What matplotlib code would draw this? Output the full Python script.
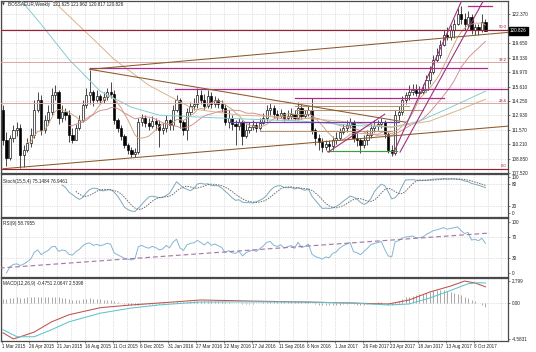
import numpy as np
import pandas as pd
import matplotlib
matplotlib.use("Agg")
import matplotlib.pyplot as plt
import matplotlib.transforms as mtransforms

plt.rcParams['font.family'] = ['Liberation Sans', 'DejaVu Sans']

# ---------------- data ----------------
title_text = "BOSSAEUR,Weekly  121.625 121.962 120.817 120.826"
stoch_label = "Stoch(15,5,4) 75.1484 76.9461"
rsi_label = "RSI(9) 58.7955"
macd_label = "MACD(12,26,9) -0.4751 2.0647 2.5398"

date_labels = ["1 Mar 2015", "26 Apr 2015", "21 Jun 2015", "16 Aug 2015", "11 Oct 2015",
               "6 Dec 2015", "31 Jan 2016", "27 Mar 2016", "22 May 2016", "17 Jul 2016",
               "11 Sep 2016", "6 Nov 2016", "1 Jan 2017", "26 Feb 2017", "23 Apr 2017",
               "18 Jun 2017", "13 Aug 2017", "8 Oct 2017"]

price_ticks = [122.370, 121.010, 119.650, 118.330, 116.970, 115.610, 114.250,
               112.930, 111.570, 110.210, 108.850, 107.520]
last_price = 120.826

first_open = 113.44
close = [
    110.62, 108.93, 110.81, 111.56, 111.75, 109.21, 109.68, 110.34, 111.09, 113.44,
    114.38, 111.56, 112.50, 113.25, 114.85, 115.13, 112.69, 113.25, 112.97, 111.09,
    110.62, 111.75, 112.50, 113.91, 114.85, 115.13, 114.38, 114.76, 114.38, 114.66,
    115.13, 114.94, 112.50, 111.75, 111.00, 110.15, 109.68, 109.30, 109.49, 112.31,
    112.69, 112.22, 111.94, 112.41, 112.12, 111.56, 111.75, 112.50, 112.03, 113.44,
    114.38, 112.31, 111.56, 113.25, 113.82, 114.00, 114.85, 114.38, 113.82, 114.76,
    114.00, 114.38, 114.00, 113.63, 112.31, 112.69, 112.12, 111.94, 112.31, 111.00,
    111.56, 111.84, 112.03, 111.75, 112.22, 112.69, 113.44, 113.63, 113.06, 112.88,
    113.16, 112.69, 112.88, 113.06, 112.69, 113.63, 112.88, 113.06, 113.44, 111.56,
    110.81, 110.43, 109.96, 110.24, 110.06, 110.62, 110.81, 111.37, 111.75, 112.03,
    112.31, 110.81, 110.62, 110.15, 110.62, 111.09, 111.75, 111.94, 112.12, 112.31,
    111.18, 109.68, 109.40, 112.97, 113.25, 114.38, 114.85, 115.13, 115.32, 115.04,
    115.13, 115.32, 116.26, 117.01, 118.14, 118.61, 119.55, 120.49, 120.30, 120.96,
    121.52, 122.37, 121.90, 121.52, 122.09, 120.96, 121.15, 120.96, 121.625, 120.826]
high = [
    113.91, 111.37, 111.09, 112.03, 112.31, 112.12, 110.15, 110.81, 111.75, 114.38,
    115.13, 114.85, 112.97, 113.91, 115.51, 115.79, 115.32, 113.91, 113.63, 113.44,
    111.75, 112.12, 112.97, 114.38, 115.51, 117.20, 115.32, 115.32, 114.94, 115.13,
    115.51, 116.07, 115.32, 112.69, 112.03, 111.18, 110.34, 109.96, 109.87, 112.69,
    113.06, 112.97, 112.69, 112.88, 112.69, 112.50, 112.22, 112.97, 112.59, 113.91,
    114.85, 114.57, 112.50, 113.63, 114.19, 114.57, 115.51, 115.32, 114.94, 115.32,
    115.13, 114.76, 114.57, 114.38, 114.00, 113.44, 112.97, 112.50, 112.69, 112.50,
    112.12, 112.31, 112.50, 112.31, 112.69, 113.16, 113.91, 114.10, 113.91, 113.44,
    113.53, 113.25, 113.44, 113.63, 113.44, 114.19, 114.00, 113.44, 113.82, 114.57,
    111.75, 111.18, 110.81, 110.62, 110.62, 111.00, 111.37, 111.75, 112.12, 112.50,
    112.69, 112.50, 111.28, 110.81, 111.09, 111.56, 112.12, 112.50, 112.50, 112.69,
    112.50, 111.37, 110.15, 113.44, 113.82, 114.76, 115.13, 115.79, 115.88, 115.88,
    115.70, 115.88, 116.73, 117.58, 118.61, 119.27, 120.02, 120.96, 121.15, 121.34,
    121.90, 122.94, 123.12, 122.47, 122.65, 122.37, 121.52, 121.43, 122.37, 121.962]
low = [
    110.15, 108.18, 108.74, 110.43, 111.00, 107.99, 108.08, 109.49, 109.96, 110.81,
    113.25, 111.09, 111.28, 112.03, 112.97, 114.38, 112.12, 112.31, 112.50, 110.43,
    110.34, 110.62, 111.56, 112.31, 113.63, 114.00, 113.82, 114.19, 114.00, 114.10,
    114.38, 114.57, 112.12, 111.37, 110.62, 109.87, 109.30, 109.02, 109.02, 109.30,
    111.94, 111.84, 111.56, 111.75, 111.56, 109.96, 111.18, 111.37, 111.56, 111.56,
    113.25, 111.75, 111.09, 110.62, 112.97, 113.44, 113.63, 114.00, 113.44, 113.63,
    113.63, 113.72, 113.63, 113.25, 112.03, 111.75, 111.56, 110.15, 111.56, 110.15,
    110.81, 111.28, 111.56, 111.37, 111.56, 112.12, 112.41, 112.97, 112.69, 112.50,
    112.69, 112.41, 112.50, 112.59, 112.50, 112.50, 112.59, 112.69, 112.88, 111.18,
    110.15, 109.68, 109.49, 109.68, 109.49, 109.68, 110.24, 110.62, 111.18, 111.37,
    111.75, 110.43, 110.06, 109.40, 109.87, 110.15, 110.81, 111.37, 111.56, 111.75,
    110.81, 109.40, 109.12, 109.21, 112.50, 112.97, 114.00, 114.38, 114.85, 114.76,
    114.76, 114.94, 115.13, 115.88, 116.82, 117.95, 118.33, 119.46, 120.02, 120.02,
    120.21, 121.34, 121.52, 120.96, 121.15, 120.58, 120.40, 120.40, 120.68, 120.817]

# long moving averages (week index, price)
ma_cyan_idx = [0, 5, 11, 19, 28, 37, 45, 57, 71, 86, 100, 112, 120, 129, 139]
ma_cyan = [125.64, 123.77, 121.44, 118.17, 115.18, 113.68, 112.94, 112.75, 112.56,
           112.38, 112.00, 111.81, 112.38, 113.68, 115.18]
ma_tan_idx = [3, 14, 27, 32, 42, 55, 68, 83, 97, 112, 123, 132, 139]
ma_tan = [126.5, 123.77, 119.75, 118.17, 115.74, 113.50, 112.94, 112.75, 112.38,
          111.81, 112.38, 113.50, 114.43]

# fibonacci
fib_low, fib_high = 107.9, 134.0
fib_levels = [0.0, 23.6, 38.2, 50.0]

# MACD
macd_idx = [0, 3, 5, 9, 14, 19, 28, 37, 45, 57, 71, 86, 100, 111, 117, 123, 129, 133, 136, 139]
macd_main = [-3.80, -4.58, -4.30, -3.70, -2.40, -1.50, -0.60, -0.25, 0.00, 0.38, 0.25,
             0.13, 0.00, -0.13, 0.38, 1.40, 2.16, 2.79, 2.55, 2.06]
sig_idx = [0, 4, 9, 14, 19, 28, 37, 45, 57, 71, 86, 100, 111, 117, 123, 129, 134, 137, 139]
macd_signal = [-3.40, -4.30, -4.30, -3.40, -2.40, -1.30, -0.64, -0.25, 0.13, 0.13, 0.13,
               0.00, -0.25, -0.13, 0.64, 1.60, 2.45, 2.58, 2.54]
macd_hist = [
    0.5, 0.5, 0.6, 0.6, 0.7, 0.6, 0.6, 0.7, 0.7, 0.8,
    0.8, 0.7, 0.7, 0.7, 0.8, 0.8, 0.7, 0.6, 0.6, 0.5,
    0.4, 0.4, 0.4, 0.5, 0.5, 0.6, 0.5, 0.5, 0.5, 0.4,
    0.4, 0.4, 0.2, 0.1, 0.0, -0.1, -0.2, -0.3, -0.3, -0.2,
    -0.1, -0.1, -0.1, -0.1, -0.1, -0.1, -0.1, 0.0, 0.0, 0.1,
    0.2, 0.1, 0.1, 0.1, 0.2, 0.2, 0.3, 0.3, 0.3, 0.3,
    0.3, 0.3, 0.3, 0.2, 0.1, 0.1, 0.0, 0.0, 0.0, -0.1,
    -0.1, -0.1, -0.1, 0.0, 0.0, 0.1, 0.1, 0.2, 0.2, 0.2,
    0.2, 0.2, 0.2, 0.2, 0.2, 0.3, 0.2, 0.2, 0.2, 0.0,
    -0.1, -0.2, -0.3, -0.3, -0.3, -0.3, -0.3, -0.2, -0.1, -0.1,
    0.0, -0.1, -0.2, -0.2, -0.2, -0.1, 0.0, 0.0, 0.1, 0.1,
    0.0, -0.2, -0.3, 0.1, 0.3, 0.5, 0.7, 0.8, 0.9, 1.0,
    1.1, 1.2, 1.3, 1.4, 1.5, 1.6, 1.6, 1.6, 1.5, 1.4,
    1.3, 1.2, 1.0, 0.8, 0.6, 0.4, 0.2, 0.0, -0.3, -0.4751]
macd_ticks = [2.799, 0.0, -4.5831]
macd_ticklabels = ["2.799", "0.00", "-4.5831"]

# RSI trend line (index, value)
rsi_trend_x = [-0.9, 140.3]
rsi_trend_y = [9.8, 78.4]

# drawn objects: (x0, x1, price)
magenta_levels = [(25, 139.5, 117.33), (49.6, 145.5, 115.36), (84, 127, 114.52), (134, 141, 123.12)]
violet_levels = [(65, 114, 112.28)]
green_levels = [(93.4, 113.5, 109.57)]
tan_levels = [(84, 117, 113.78), (84, 121, 113.40), (74, 112, 111.44)]
brown_trends = [((25, 145.5), (117.23, 120.69)),
                ((25, 116), (117.23, 112.28)),
                ((0, 145.5), (107.92, 111.91))]
purple_trends = [((112.4, 132.3), (109.29, 123.77)),
                 ((114.4, 138.6), (109.48, 123.77)),
                 ((93.7, 110.0), (109.48, 113.03))]

# ---------------- figure ----------------
W, H = 536, 352
fig = plt.figure(figsize=(W / 100, H / 100), dpi=100)
fig.patch.set_facecolor("white")


def ax_at(top, bottom):
    return fig.add_axes([1 / W, 1 - bottom / H, 507 / W, (bottom - top) / H])


ax = ax_at(1, 173)
ax_st = ax_at(174, 217)
ax_rsi = ax_at(218, 277)
ax_m = ax_at(278, 341)
axes = [ax, ax_st, ax_rsi, ax_m]

n = len(close)
idx = np.arange(n)
c = np.array(close)
o = np.r_[first_open, c[:-1]]
hi_arr = np.array(high)
lo_arr = np.array(low)

XMIN, XMAX = -0.58, 145.5
grid_kw = dict(color="#C4C4C4", lw=0.5, ls=(0, (1, 1.6)), zorder=0)
vgrid = np.arange(-0.4, 146, 4)
FS = 3.3

for a in axes:
    a.set_xlim(XMIN, XMAX)
    a.set_facecolor("white")
    for s in a.spines.values():
        s.set_color("#4a4a4a")
        s.set_linewidth(0.9)
    a.yaxis.tick_right()
    a.tick_params(axis="y", which="both", labelsize=FS, length=1.5, width=0.4, pad=1.2,
                  colors="#222222")
    a.tick_params(axis="x", which="both", length=0, labelbottom=False)
    for gx in vgrid:
        a.axvline(gx, **grid_kw)

# ---- main chart ----
ax.set_ylim(107.52, 123.63)
ax.set_yticks([p for p in price_ticks if abs(p - last_price) > 0.5])
ax.set_yticklabels(["%.3f" % p for p in price_ticks if abs(p - last_price) > 0.5])
for p in price_ticks:
    ax.axhline(p, **grid_kw)

# candles
wick_hi = np.maximum(hi_arr, np.maximum(o, c))
wick_lo = np.minimum(lo_arr, np.minimum(o, c))
ax.vlines(idx, wick_lo, wick_hi, color="black", lw=0.5, zorder=3)
up = c >= o
body_h = np.maximum(np.abs(c - o), 0.05)
body_b = np.minimum(o, c)
ax.bar(idx[up], body_h[up], bottom=body_b[up], width=0.62, color="white",
       edgecolor="black", linewidth=0.45, zorder=4)
ax.bar(idx[~up], body_h[~up], bottom=body_b[~up], width=0.62, color="black",
       edgecolor="black", linewidth=0.45, zorder=4)

# moving averages
cs = pd.Series(c)
sma_fast = cs.rolling(8).mean()
sma_mid = cs.rolling(20).mean()
ax.plot(idx, sma_fast, color="#C9A27E", lw=0.65, zorder=5)
ax.plot(idx, sma_mid, color="#D48A8A", lw=0.65, zorder=5)
ax.plot(ma_cyan_idx, ma_cyan, color="#86CCCF", lw=0.7, zorder=5)
ax.plot(ma_tan_idx, ma_tan, color="#D7B58E", lw=0.7, zorder=5)

# fibonacci
for lv in fib_levels:
    pr = fib_low + (fib_high - fib_low) * lv / 100
    strong = lv in (0.0, 50.0)
    ax.axhline(pr, color="#9B1F2E" if strong else "#D9A0A0", lw=0.85 if strong else 0.65, zorder=5)
    ax.text(145.2, pr + 0.06, "%.1f" % lv, ha="right", va="bottom", fontsize=FS - 0.3,
            color="#9B1F2E", zorder=7)

for x0, x1, p in magenta_levels:
    ax.plot([x0, x1], [p, p], color="#B02A8A", lw=0.9, zorder=6)
for x0, x1, p in violet_levels:
    ax.plot([x0, x1], [p, p], color="#6F3FB0", lw=0.9, zorder=6)
for x0, x1, p in green_levels:
    ax.plot([x0, x1], [p, p], color="#3E9E3E", lw=0.85, zorder=6)
for x0, x1, p in tan_levels:
    ax.plot([x0, x1], [p, p], color="#B89470", lw=0.75, zorder=6)
for xs, ys in brown_trends:
    ax.plot(xs, ys, color="#8B5A2B", lw=0.75, zorder=6)
for xs, ys in purple_trends:
    ax.plot(xs, ys, color="#A0307F", lw=0.8, zorder=6)

# current price box
trans = mtransforms.blended_transform_factory(ax.transAxes, ax.transData)
ax.text(1.004, last_price, "%.3f" % last_price, transform=trans, fontsize=FS,
        color="white", ha="left", va="center", zorder=10, clip_on=False,
        bbox=dict(boxstyle="square,pad=0.25", fc="black", ec="black"))

# ---- stochastic ----
hs, ls_ = pd.Series(hi_arr), pd.Series(lo_arr)
ll = ls_.rolling(15).min()
hh = hs.rolling(15).max()
st_main = (cs - ll).rolling(4).sum() / (hh - ll).rolling(4).sum() * 100
st_sig = st_main.rolling(5).mean()
ax_st.set_ylim(-11, 108)
ax_st.set_yticks([100, 80, 20, 0])
ax_st.set_yticklabels(["100", "80", "20", "0"])
for lv in (80, 20):
    ax_st.axhline(lv, **grid_kw)
ax_st.plot(idx, st_main, color="#7FA9BE", lw=0.7, zorder=3)
ax_st.plot(idx, st_sig, color="#6a6a6a", lw=0.7, ls=(0, (1.5, 1.2)), zorder=3)

# ---- RSI ----
delta = cs.diff()
gain = delta.clip(lower=0).ewm(alpha=1 / 9, adjust=False).mean()
loss = (-delta.clip(upper=0)).ewm(alpha=1 / 9, adjust=False).mean()
rsi = 100 - 100 / (1 + gain / loss)
ax_rsi.set_ylim(-7.8, 107.8)
ax_rsi.set_yticks([100, 70, 30, 0])
ax_rsi.set_yticklabels(["100", "70", "30", "0"])
for lv in (70, 30):
    ax_rsi.axhline(lv, **grid_kw)
ax_rsi.plot(idx, rsi, color="#84B6D3", lw=0.7, zorder=3)
ax_rsi.plot(rsi_trend_x, rsi_trend_y, color="#A77AA6", lw=0.85, ls=(0, (4, 2.5)), zorder=4)

# ---- MACD ----
ax_m.set_ylim(-4.84, 3.18)
ax_m.set_yticks(macd_ticks)
ax_m.set_yticklabels(macd_ticklabels)
ax_m.axhline(0, **grid_kw)
ax_m.vlines(idx, 0, macd_hist, color="#9a9a9a", lw=0.6, zorder=2)
ax_m.plot(macd_idx, macd_main, color="#C0504D", lw=0.75, zorder=3)
ax_m.plot(sig_idx, macd_signal, color="#5FC3CB", lw=0.75, zorder=3)

date_pos = np.arange(len(date_labels)) * 8 - 0.4
ax_m.set_xticks(date_pos)
ax_m.set_xticklabels(date_labels)
ax_m.tick_params(axis="x", labelbottom=True, labelsize=FS, length=1.5, width=0.4,
                 pad=1.0, colors="#222222")
for lab in ax_m.get_xticklabels():
    lab.set_horizontalalignment("left")

# ---- texts ----
fig.text(2 / W, 1 - 4.5 / H, "\u25BC", fontsize=2.6, color="#333333", va="center",
         family=["DejaVu Sans"])
fig.text(8 / W, 1 - 4.5 / H, title_text, fontsize=FS, color="#222222", va="center")
fig.text(3 / W, 1 - 181 / H, stoch_label, fontsize=FS, color="#222222", va="center")
fig.text(3 / W, 1 - 223 / H, rsi_label, fontsize=FS, color="#222222", va="center")
fig.text(3 / W, 1 - 283 / H, macd_label, fontsize=FS, color="#222222", va="center")

fig.savefig("out.png", dpi=100, facecolor="white")
